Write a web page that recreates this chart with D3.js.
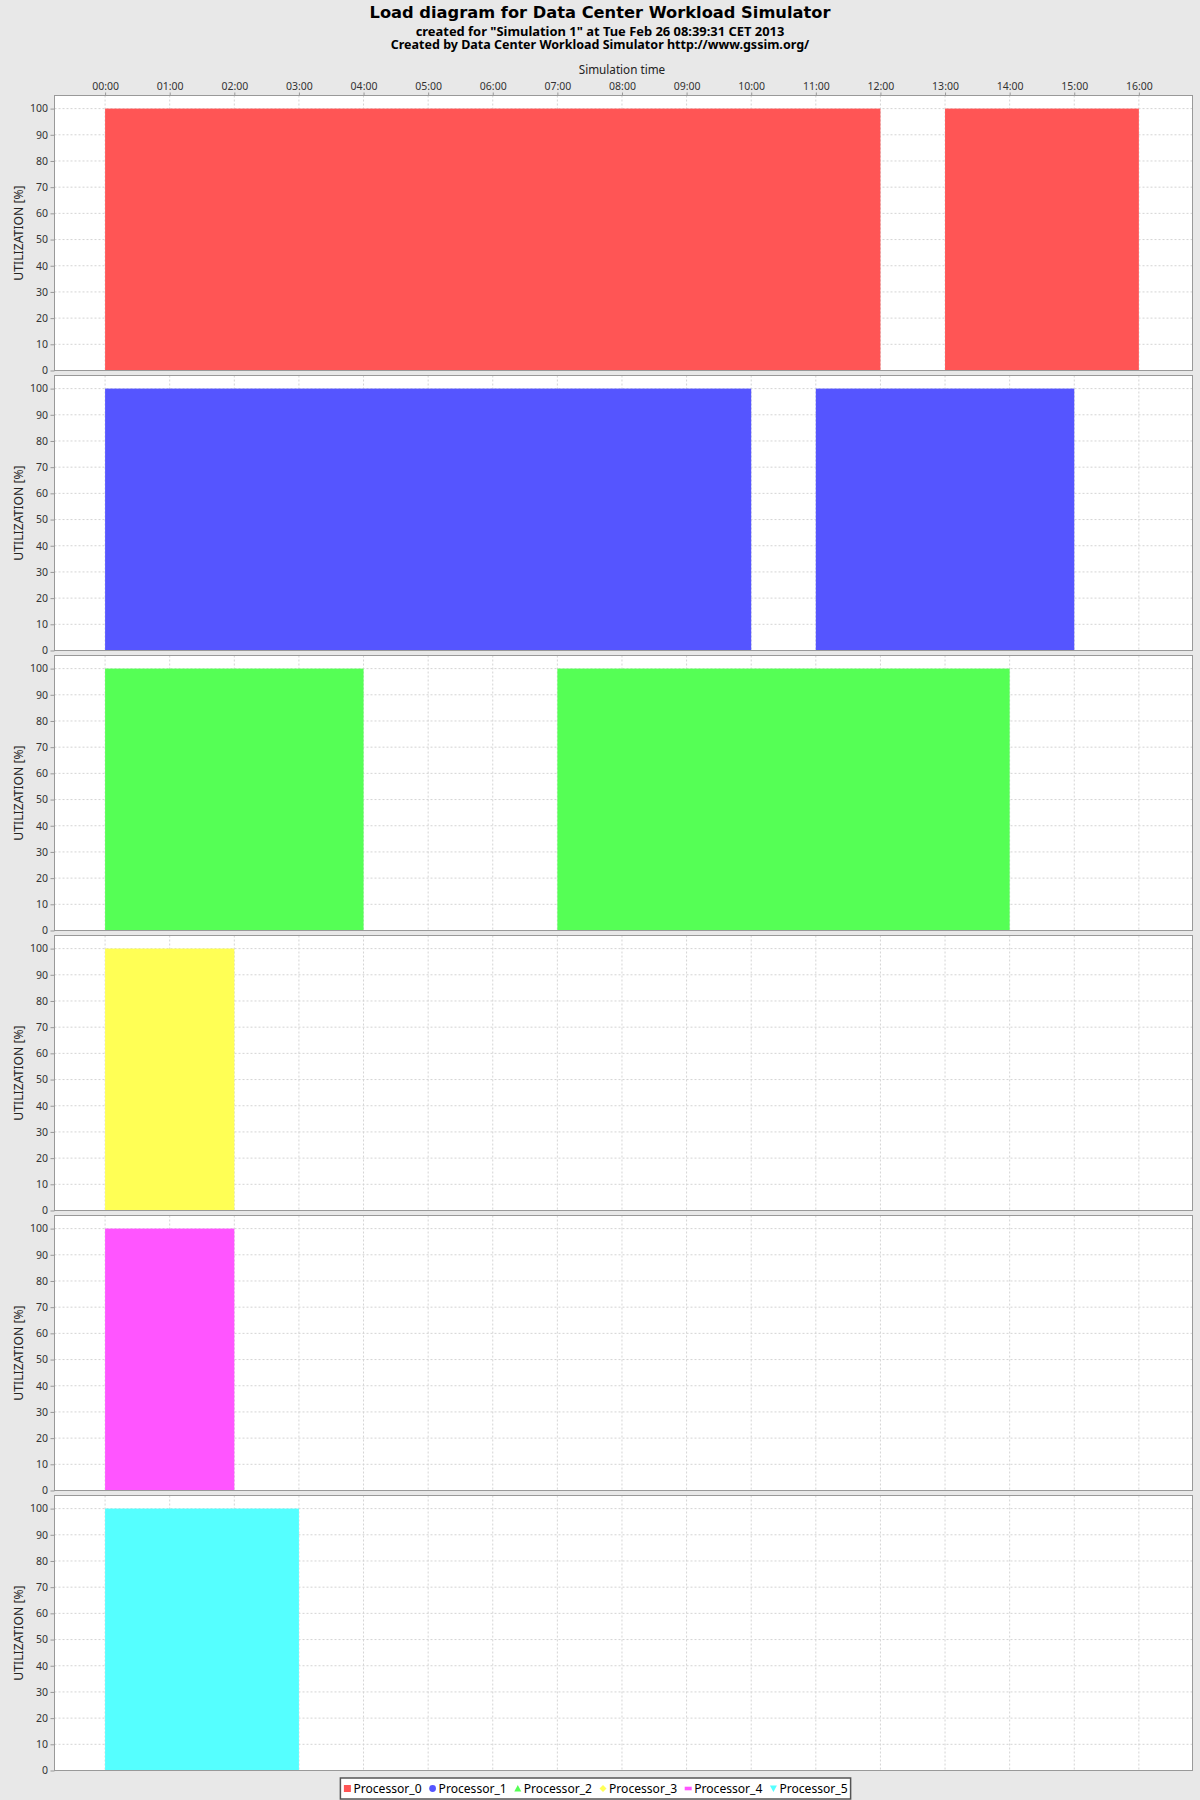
<!DOCTYPE html>
<html>
<head>
<meta charset="utf-8">
<script src="https://cdn.jsdelivr.net/npm/d3@7"></script>
<style>
  body { margin: 0; background: #e8e8e8; }
  svg { display: block; }
</style>
</head>
<body>
<div id="chart"></div>
<script>
// Chart data
const processorNames = ["Processor_0", "Processor_1", "Processor_2", "Processor_3", "Processor_4", "Processor_5"];
// busy periods per processor, in hours since 00:00
const busyFrom = [[0, 13], [0, 11], [0, 7], [0], [0], [0]];
const busyTo = [[12, 16], [10, 15], [4, 14], [2], [2], [3]];
const busyLoad = [[100, 100], [100, 100], [100, 100], [100], [100], [100]];
const hourTicks = [0, 1, 2, 3, 4, 5, 6, 7, 8, 9, 10, 11, 12, 13, 14, 15, 16];
const utilTicks = [0, 10, 20, 30, 40, 50, 60, 70, 80, 90, 100];

const titleText = "Load diagram for Data Center Workload Simulator";
const subtitleLines = [
    "created for \"Simulation 1\" at Tue Feb 26 08:39:31 CET 2013",
    "Created by Data Center Workload Simulator http://www.gssim.org/"
];
const xAxisLabel = "Simulation time";
const yAxisLabel = "UTILIZATION [%]";

// JFreeChart default series paints
const seriesColors = ["#ff5555", "#5555ff", "#55ff55", "#ffff55", "#ff55ff", "#55ffff"];
const legendShapes = ["square", "circle", "triangle", "diamond", "bar", "triangleDown"];

// Layout
const width = 1200, height = 1800;
const plotLeft = 54.5, plotRight = 1192.5;
const firstTop = 95.5, panelStep = 280, panelH = 275;
const bodyFont = "\"Noto Sans\", \"DejaVu Sans\", sans-serif";
const titleFont = "\"DejaVu Sans\", sans-serif";

const svg = d3.select("#chart")
    .append("svg")
    .attr("width", width)
    .attr("height", height)
    .style("font-family", bodyFont);

svg.append("rect")
    .attr("width", width)
    .attr("height", height)
    .attr("fill", "#e8e8e8");

// scale a text's font size so it spans the given width
function fitWidth(sel, target) {
    const size = parseFloat(sel.style("font-size"));
    const w = sel.node().getComputedTextLength();
    sel.style("font-size", (size * target / w).toFixed(2) + "px");
}

// Titles
const title = svg.append("text")
    .attr("x", 600).attr("y", 17.5)
    .attr("text-anchor", "middle")
    .style("font-family", titleFont)
    .style("font-size", "16.5px")
    .style("font-weight", "bold")
    .attr("fill", "#000")
    .text(titleText);
fitWidth(title, 461);

const subtitleWidths = [369, 419];
svg.selectAll(".subtitle")
    .data(subtitleLines)
    .enter().append("text")
    .attr("class", "subtitle")
    .attr("x", 600)
    .attr("y", (d, i) => 35.8 + i * 13.6)
    .attr("text-anchor", "middle")
    .style("font-family", bodyFont)
    .style("font-size", "12.5px")
    .style("font-weight", "bold")
    .attr("fill", "#000")
    .text(d => d)
    .each(function(d, i) { fitWidth(d3.select(this), subtitleWidths[i]); });

// Shared time axis
const x = d3.scaleLinear()
    .domain([-0.783, 16.83])
    .range([plotLeft, plotRight]);

const hourFormat = h => d3.format("02d")(h) + ":00";

svg.append("text")
    .attr("x", x(8)).attr("y", 74)
    .attr("text-anchor", "middle")
    .style("font-size", "11.7px")
    .attr("fill", "#222")
    .text(xAxisLabel);

const xAxis = svg.append("g")
    .attr("transform", `translate(0,${firstTop})`)
    .call(d3.axisTop(x).tickValues(hourTicks).tickFormat(hourFormat).tickSize(3).tickPadding(3));
xAxis.select(".domain").remove();
xAxis.selectAll("line").attr("stroke", "#999");
xAxis.selectAll("text")
    .style("font-size", "10.5px")
    .style("font-family", bodyFont)
    .attr("fill", "#333");

// One plot per processor
processorNames.forEach((name, i) => {
    const top = firstTop + i * panelStep;
    const y = d3.scaleLinear().domain([0, 105]).range([panelH, 0]);

    const g = svg.append("g")
        .attr("transform", `translate(0,${top})`);

    g.append("rect")
        .attr("x", plotLeft)
        .attr("y", 0)
        .attr("width", plotRight - plotLeft)
        .attr("height", panelH)
        .attr("fill", "#fff");

    // dashed grid
    g.selectAll(".vgrid")
        .data(hourTicks)
        .enter().append("line")
        .attr("class", "vgrid")
        .attr("x1", d => x(d)).attr("x2", d => x(d))
        .attr("y1", 0).attr("y2", panelH)
        .attr("stroke", "#d4d4d4")
        .attr("stroke-dasharray", "2,2");

    g.selectAll(".hgrid")
        .data(utilTicks)
        .enter().append("line")
        .attr("class", "hgrid")
        .attr("x1", plotLeft).attr("x2", plotRight)
        .attr("y1", d => y(d)).attr("y2", d => y(d))
        .attr("stroke", "#d4d4d4")
        .attr("stroke-dasharray", "2,2");

    // busy bars
    const periods = busyFrom[i].map((s, k) => ({ start: s, end: busyTo[i][k], load: busyLoad[i][k] }));
    g.selectAll(".bar")
        .data(periods)
        .enter().append("rect")
        .attr("class", "bar")
        .attr("x", d => x(d.start))
        .attr("y", d => y(d.load))
        .attr("width", d => x(d.end) - x(d.start))
        .attr("height", d => y(0) - y(d.load))
        .attr("fill", seriesColors[i]);

    // plot border
    g.append("rect")
        .attr("x", plotLeft)
        .attr("y", 0)
        .attr("width", plotRight - plotLeft)
        .attr("height", panelH)
        .attr("fill", "none")
        .attr("stroke", "#999");

    // utilization axis
    const yAxis = g.append("g")
        .attr("transform", `translate(${plotLeft},0)`)
        .call(d3.axisLeft(y).tickValues(utilTicks).tickSize(4).tickPadding(2.5));
    yAxis.select(".domain").remove();
    yAxis.selectAll("line").attr("stroke", "#999");
    yAxis.selectAll("text")
        .style("font-size", "10.5px")
        .style("font-family", bodyFont)
        .attr("fill", "#333");

    g.append("text")
        .attr("transform", `translate(19,${panelH / 2}) rotate(-90)`)
        .attr("text-anchor", "middle")
        .attr("dy", "0.35em")
        .style("font-size", "12.2px")
        .attr("fill", "#222")
        .text(yAxisLabel);
});

// Legend
const legend = svg.append("g");
const legendBox = legend.append("rect")
    .attr("fill", "#fff")
    .attr("stroke", "#555")
    .attr("stroke-width", 1.5);

const symbolPath = {
    square: "M-3.5,-3.5h7v7h-7z",
    circle: d3.symbol(d3.symbolCircle, 36)(),
    triangle: "M0,-3.5L3.5,3L-3.5,3z",
    diamond: "M0,-3.5L3.5,0L0,3.5L-3.5,0z",
    bar: "M-3.5,-1.8h7v3.6h-7z",
    triangleDown: "M0,3.5L3.5,-3L-3.5,-3z"
};

let cursor = 0;
const legendY = 1788.5;
processorNames.forEach((name, i) => {
    const item = legend.append("g");
    item.append("path")
        .attr("d", symbolPath[legendShapes[i]])
        .attr("transform", `translate(${cursor + 4},${legendY})`)
        .attr("fill", seriesColors[i]);
    const label = item.append("text")
        .attr("x", cursor + 10)
        .attr("y", legendY)
        .attr("dy", "0.35em")
        .style("font-size", "12.1px")
        .attr("fill", "#000")
        .text(name);
    cursor += 10 + label.node().getComputedTextLength() + 7;
});

// center the legend box under the plots
const legendW = cursor - 7 + 6;
legend.attr("transform", `translate(${598.5 - legendW / 2},0)`);
legendBox
    .attr("x", -3)
    .attr("y", 1778)
    .attr("width", legendW)
    .attr("height", 21);
</script>
</body>
</html>
